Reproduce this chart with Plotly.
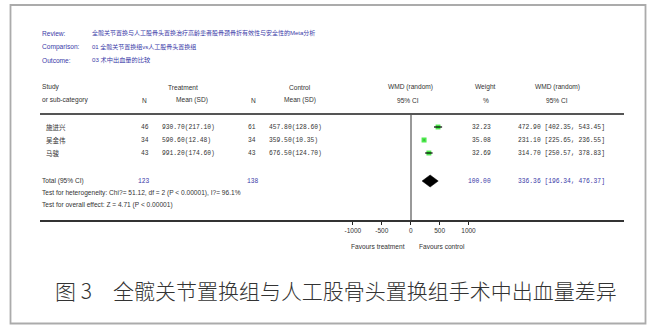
import plotly.graph_objects as go

# ---- data -------------------------------------------------------------
studies = ["施进兴", "吴金伟", "马骏"]
trt_n = [46, 34, 43]
trt_mean = [930.70, 590.60, 991.20]
trt_sd = [217.10, 12.48, 174.60]
ctl_n = [61, 34, 43]
ctl_mean = [457.80, 359.50, 676.50]
ctl_sd = [128.60, 10.35, 124.70]
wmd = [472.90, 231.10, 314.70]
ci_low = [402.35, 225.65, 250.57]
ci_high = [543.45, 236.55, 378.83]
weights = [32.23, 35.08, 32.69]

total_trt_n = 123
total_ctl_n = 138
total_weight = 100.00
total_wmd = 336.36
total_ci = [196.34, 476.37]

tick_vals = [-1000, -500, 0, 500, 1000]

review = "全髋关节置换与人工股骨头置换治疗高龄患者股骨颈骨折有效性与安全性的Meta分析"
comparison = "01 全髋关节置换组vs人工股骨头置换组"
outcome = "03 术中出血量的比较"
heterogeneity = "Test for heterogeneity: Chi?= 51.12, df = 2 (P < 0.00001), I?= 96.1%"
overall = "Test for overall effect: Z = 4.71 (P < 0.00001)"
caption = "图 3\u3000全髋关节置换组与人工股骨头置换组手术中出血量差异"

# ---- layout (pixel based) --------------------------------------------
W, H = 650, 325
LEFT, RIGHT = 40, 624          # extent of the rules
HEAD_Y, AXIS_Y = 114, 220      # header rule / bottom axis
ZERO_X = 410.7                 # pixel position of 0 on the effect scale
PX_PER_UNIT = 115.6 / 2000     # effect scale
row_y = [127, 140, 153]
total_y = 181

SANS = "Liberation Sans, Arial, Noto Sans CJK SC, sans-serif"
MONO = "Liberation Mono, DejaVu Sans Mono, monospace"
CJK = "Noto Sans CJK SC, sans-serif"
BLUE = "#3a3aa8"
DARK = "#333333"
TXT = 6.6      # header / footer text size
NUM = 6.3      # tabulated numbers


def px(x):
    return x / W


def py(y):
    return 1 - y / H


annotations = []


def label(x, y, text, size=TXT, color=DARK, anchor="left", family=SANS, weight="normal"):
    annotations.append(dict(
        x=px(x), y=py(y), xref="paper", yref="paper", text=text,
        showarrow=False, xanchor=anchor, yanchor="middle",
        font=dict(size=size, color=color, family=family, weight=weight)))


# title block
label(LEFT, 33, "Review:", color=BLUE)
label(LEFT, 47, "Comparison:", color=BLUE)
label(LEFT, 60, "Outcome:", color=BLUE)
label(90, 33, review, size=6.0, color=BLUE)
label(90, 47, comparison, size=6.0, color=BLUE)
label(90, 60, outcome, size=6.2, color=BLUE)

# column headers
label(LEFT, 87, "Study")
label(LEFT, 100, "or sub-category")
label(144, 100, "N", anchor="center")
label(183, 87, "Treatment", anchor="center")
label(192, 100, "Mean (SD)", anchor="center")
label(253, 100, "N", anchor="center")
label(300, 87, "Control", anchor="center")
label(300, 100, "Mean (SD)", anchor="center")
label(410, 87, "WMD (random)", anchor="center")
label(408, 100, "95% CI", anchor="center")
label(485, 87, "Weight", anchor="center")
label(486, 100, "%", anchor="center")
label(557, 87, "WMD (random)", anchor="center")
label(557, 100, "95% CI", anchor="center")

# study rows
for i, name in enumerate(studies):
    y = row_y[i]
    label(44, y, name, size=6.5, family=CJK)
    label(151, y, str(trt_n[i]), size=NUM, anchor="right", family=MONO)
    label(160, y, f"{trt_mean[i]:.2f}({trt_sd[i]:.2f})", size=NUM, family=MONO)
    label(258, y, str(ctl_n[i]), size=NUM, anchor="right", family=MONO)
    label(267, y, f"{ctl_mean[i]:.2f}({ctl_sd[i]:.2f})", size=NUM, family=MONO)
    label(493, y, f"{weights[i]:.2f}", size=NUM, anchor="right", family=MONO)
    label(516, y, f"{wmd[i]:.2f} [{ci_low[i]:.2f}, {ci_high[i]:.2f}]", size=NUM, family=MONO)

# totals
label(LEFT, total_y, "Total (95% CI)")
label(144, total_y, str(total_trt_n), size=NUM, color=BLUE, anchor="center", family=MONO)
label(253, total_y, str(total_ctl_n), size=NUM, color=BLUE, anchor="center", family=MONO)
label(493, total_y, f"{total_weight:.2f}", size=NUM, color=BLUE, anchor="right", family=MONO)
label(516, total_y, f"{total_wmd:.2f} [{total_ci[0]:.2f}, {total_ci[1]:.2f}]",
      size=NUM, color=BLUE, family=MONO)
label(LEFT, 193, heterogeneity)
label(LEFT, 205, overall)

# favours labels
label(407, 246, "Favours treatment", anchor="right")
label(417, 246, "Favours control")

# caption
label(53, 290, caption, size=21, color="#333333", family=CJK, weight=300)

# ---- forest plot ------------------------------------------------------
fig = go.Figure()

# weight boxes
fig.add_trace(go.Scatter(
    x=wmd, y=row_y, mode="markers",
    marker=dict(symbol="square", color="#00e000",
                size=[3.5 + 1.5 * (w / max(weights)) for w in weights],
                line=dict(width=0)),
    hoverinfo="skip", showlegend=False))

# confidence intervals
ci_x, ci_y = [], []
for lo, hi, y in zip(ci_low, ci_high, row_y):
    ci_x += [lo, hi, None]
    ci_y += [y, y, None]
fig.add_trace(go.Scatter(
    x=ci_x, y=ci_y, mode="lines", line=dict(color="black", width=1.2),
    hoverinfo="skip", showlegend=False))

# pooled estimate diamond
half_h = 6
fig.add_trace(go.Scatter(
    x=[total_ci[0], total_wmd, total_ci[1], total_wmd, total_ci[0]],
    y=[total_y, total_y - half_h, total_y, total_y + half_h, total_y],
    mode="lines", fill="toself", fillcolor="black",
    line=dict(color="black", width=0.5),
    hoverinfo="skip", showlegend=False))

x_lo = (LEFT - ZERO_X) / PX_PER_UNIT
x_hi = (RIGHT - ZERO_X) / PX_PER_UNIT

fig.update_xaxes(
    domain=[px(LEFT), px(RIGHT)], range=[x_lo, x_hi],
    tickvals=tick_vals, ticktext=[str(v) for v in tick_vals],
    ticks="outside", ticklen=3, tickwidth=1, tickcolor="#222",
    tickfont=dict(size=6.5, family=SANS, color=DARK),
    showline=True, linecolor="#333", linewidth=1.6,
    showgrid=False, zeroline=True, zerolinecolor="#999999", zerolinewidth=2,
    fixedrange=True)
fig.update_yaxes(
    domain=[py(AXIS_Y), py(HEAD_Y)], range=[AXIS_Y, HEAD_Y],
    visible=False, showgrid=False, zeroline=False, fixedrange=True)

shapes = [
    # header rule
    dict(type="line", xref="paper", yref="paper",
         x0=px(LEFT), x1=px(RIGHT), y0=py(HEAD_Y), y1=py(HEAD_Y),
         line=dict(color="#555555", width=2)),
    # outer frame
    dict(type="rect", xref="paper", yref="paper",
         x0=px(10.5), x1=px(645.5), y0=py(323.5), y1=py(5),
         line=dict(color="#ababab", width=1.8)),
]

fig.update_layout(
    width=W, height=H, margin=dict(l=0, r=0, t=0, b=0),
    paper_bgcolor="white", plot_bgcolor="rgba(0,0,0,0)",
    annotations=annotations, shapes=shapes, showlegend=False)

fig.write_html("out.html", config={"displayModeBar": False})
